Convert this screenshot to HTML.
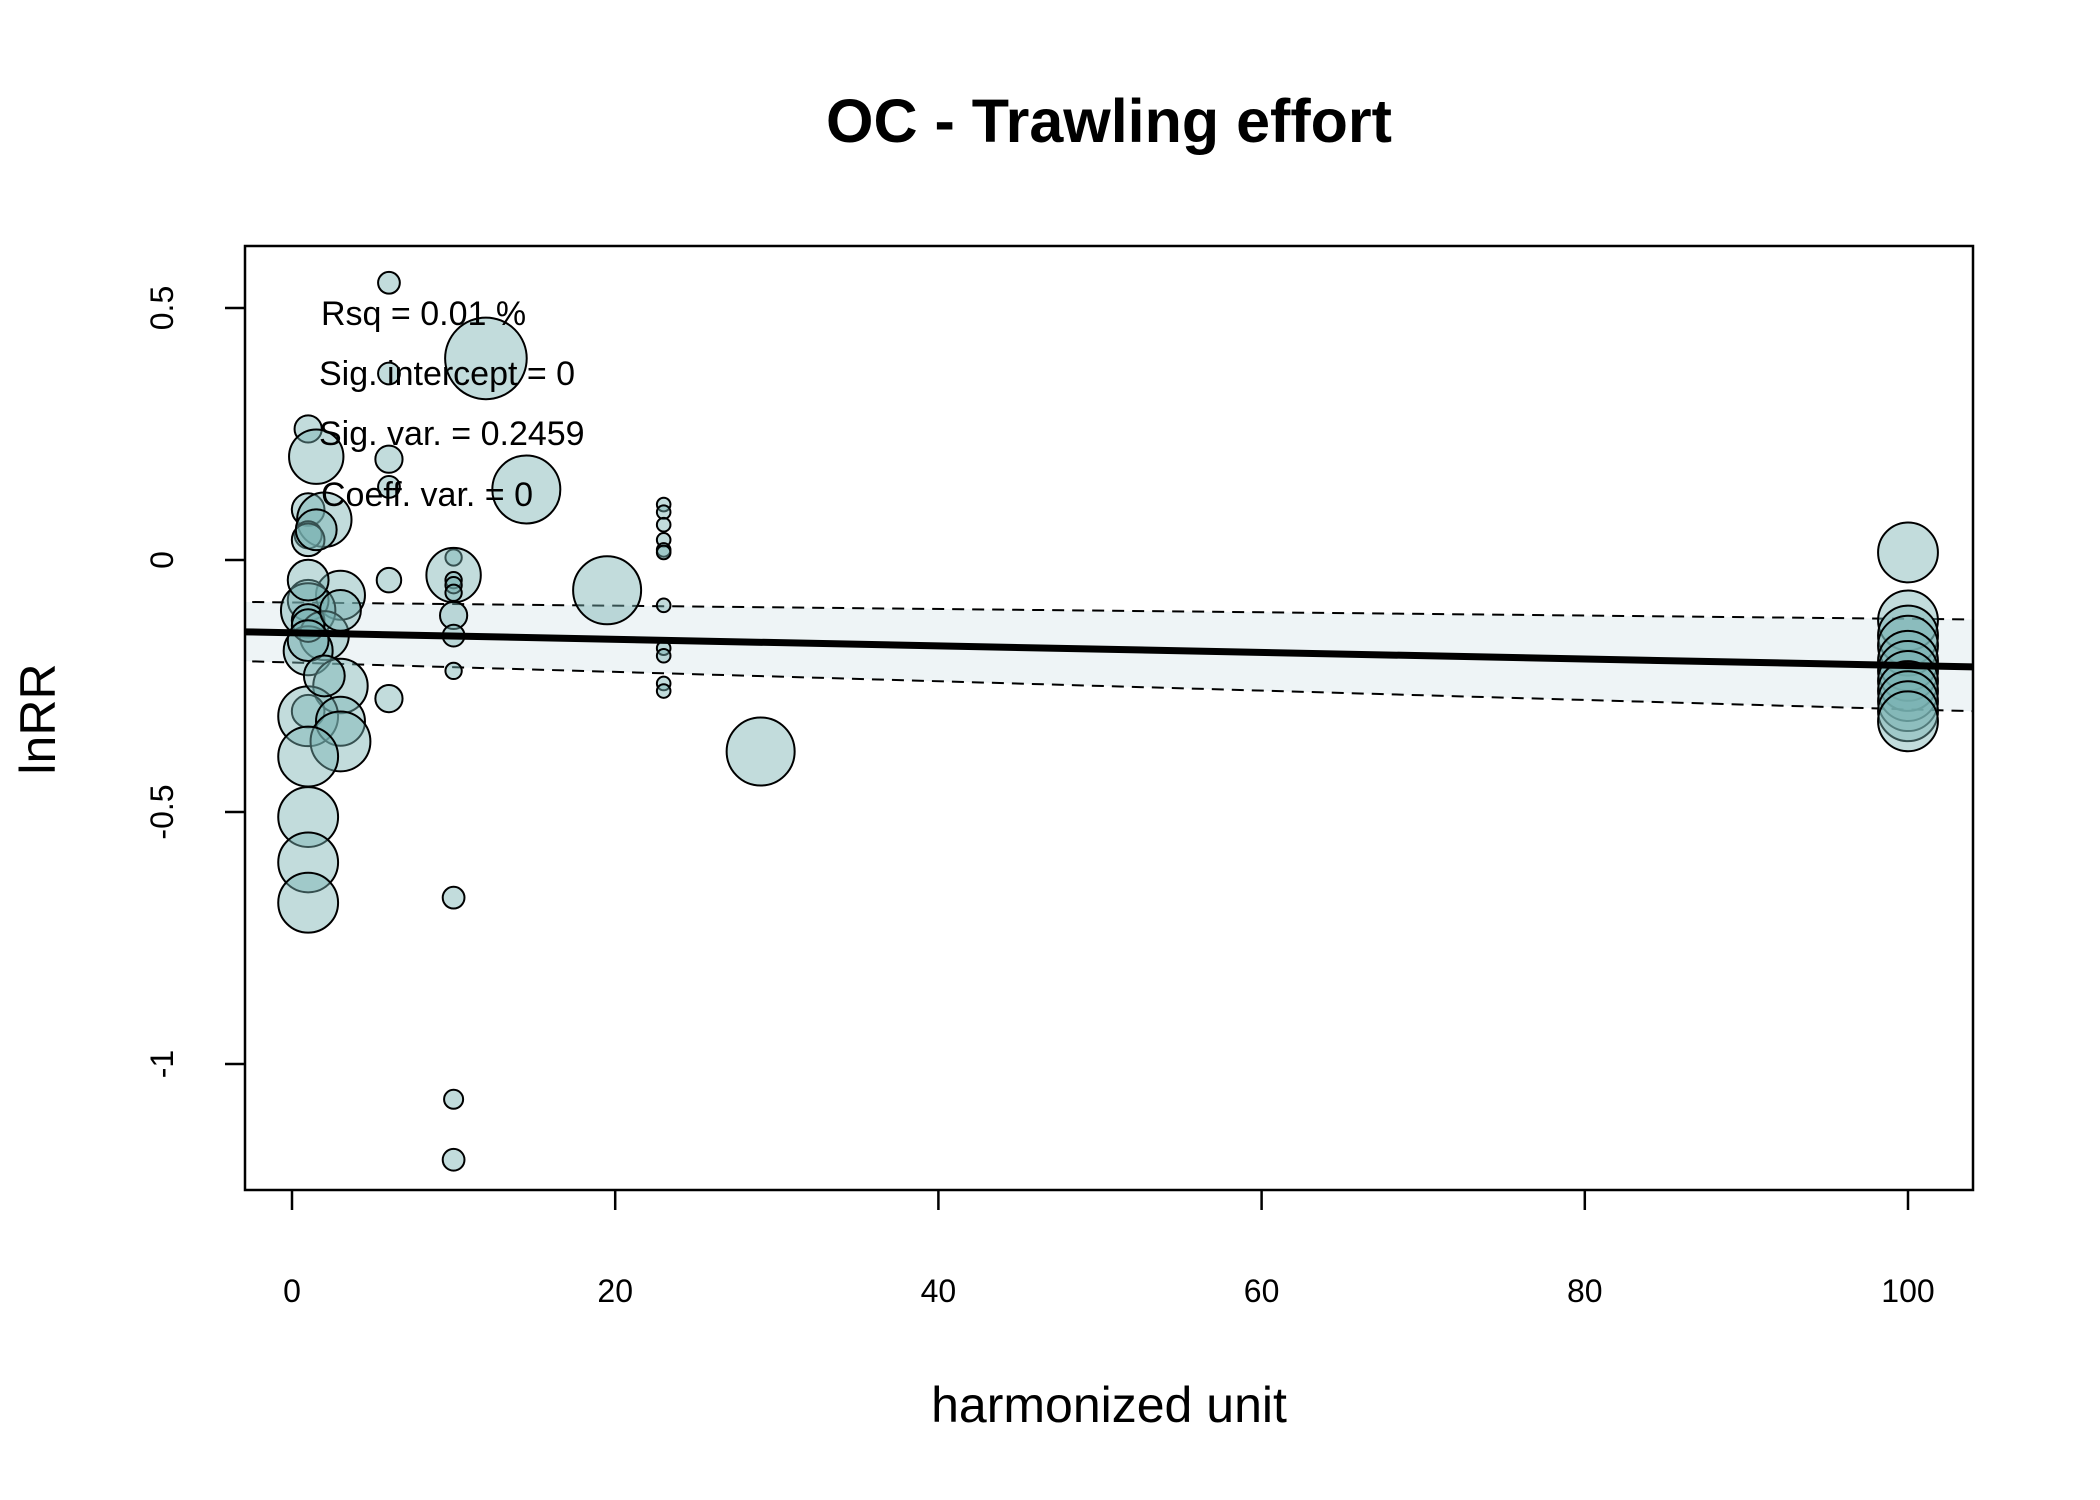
<!DOCTYPE html>
<html><head><meta charset="utf-8"><style>
html,body{margin:0;padding:0;background:#fff;}
svg{display:block;font-family:"Liberation Sans",Arial,sans-serif;}
</style></head><body>
<svg id="chart" width="2100" height="1500" viewBox="0 0 2100 1500" xmlns="http://www.w3.org/2000/svg">
<defs><clipPath id="plotclip"><rect x="245" y="246" width="1728" height="944"/></clipPath></defs>
<rect width="2100" height="1500" fill="#fff"/>
<text x="1109" y="142" font-size="61" font-weight="bold" text-anchor="middle">OC - Trawling effort</text>
<text x="1109" y="1422" font-size="50" text-anchor="middle">harmonized unit</text>
<text x="0" y="0" font-size="50" text-anchor="middle" transform="translate(55,719) rotate(-90)">lnRR</text>
<g id="plotarea" clip-path="url(#plotclip)">
<g id="ci"></g>
<g id="pts"></g>
</g>
<g id="axes"></g>
<g font-size="34">
<text x="321" y="325">Rsq = 0.01 %</text>
<text x="319" y="385">Sig. intercept = 0</text>
<text x="319" y="445">Sig. var. = 0.2459</text>
<text x="321" y="506">Coeff. var. = 0</text>
</g>
<rect x="245" y="246" width="1728" height="944" fill="none" stroke="#000" stroke-width="2.5"/>
</svg>
<script>
const xTicks=[0,20,40,60,80,100];
const yTicks=[0.5,0,-0.5,-1];
const yTickLabels=["0.5","0","-0.5","-1"];
const ptX=[6,6,6,6,6,6,10,10,10,10,10,10,10,10,10,10,10,12,14.5,19.5,29,
23,23,23,23,23,23,23,23,23,23,23,
100,100,100,100,100,100,100,100,100,100,100,
1,1.5,1,2,1,1,1.5,3,1,1,1,2,1,1,1,3,1,1,3,3,1,1,1,1,2,3,1];
const ptY=[0.55,0.37,0.2,0.145,-0.04,-0.275,0.005,-0.03,-0.04,-0.05,-0.065,-0.11,-0.15,-0.22,-0.67,-1.07,-1.19,0.4,0.14,-0.06,-0.38,
0.11,0.095,0.07,0.04,0.02,0.015,-0.09,-0.175,-0.19,-0.245,-0.26,
0.015,-0.12,-0.15,-0.17,-0.2,-0.22,-0.24,-0.26,-0.28,-0.3,-0.32,
0.26,0.205,0.1,0.08,0.05,0.04,0.06,-0.07,-0.08,-0.1,-0.12,-0.15,-0.18,-0.13,-0.16,-0.25,-0.3,-0.31,-0.32,-0.36,-0.39,-0.51,-0.6,-0.68,-0.23,-0.1,-0.04];
const ptW=[8,8,10,8,9,10,6,20,6,6,6,10,8,6,8,7,8,30,25,25,25,
5,5,5,5,5,5,5,5,5,5,5,
22,22,22,22,22,22,22,22,22,22,22,
10,20,12,20,10,12,15,18,15,20,12,18,18,12,15,20,12,22,18,22,22,22,22,22,15,15,15];
const fitX=[-3.7,104];
const fitY=[-0.142,-0.212];
const ciUp=[-0.083,-0.118];
const ciLo=[-0.2,-0.3];
const NS="http://www.w3.org/2000/svg";
const X=v=>292+(v)*16.16;
const Y=v=>560-(v)*504;
const RK=1.36;
function mk(t,a,p){const e=document.createElementNS(NS,t);for(const k in a)e.setAttribute(k,a[k]);p.appendChild(e);return e;}
const ci=document.getElementById('ci');
const band=mk('polygon',{points:`${X(fitX[0])},${Y(ciUp[0])} ${X(fitX[1])},${Y(ciUp[1])} ${X(fitX[1])},${Y(ciLo[1])} ${X(fitX[0])},${Y(ciLo[0])}`,fill:'#eef4f6'},ci);


const up=mk('line',{x1:X(fitX[0]),y1:Y(ciUp[0]),x2:X(fitX[1]),y2:Y(ciUp[1]),stroke:'#000','stroke-width':2,'stroke-dasharray':'12,8'},ci);


const lo=mk('line',{x1:X(fitX[0]),y1:Y(ciLo[0]),x2:X(fitX[1]),y2:Y(ciLo[1]),stroke:'#000','stroke-width':2,'stroke-dasharray':'12,8'},ci);


const pts=document.getElementById('pts');
for(let i=0;i<ptX.length;i++){
 const c=mk('circle',{cx:X(ptX[i]),cy:Y(ptY[i]),r:ptW[i]*RK,fill:'rgba(120,178,178,0.45)',stroke:'#000','stroke-width':2},pts);
 
 
}
const fit=mk('line',{x1:X(fitX[0]),y1:Y(fitY[0]),x2:X(fitX[1]),y2:Y(fitY[1]),stroke:'#000','stroke-width':7},document.getElementById('plotarea'));


const ax=document.getElementById('axes');
xTicks.forEach(t=>{
 const l=mk('line',{x1:X(t),y1:1190,x2:X(t),y2:1210,stroke:'#000','stroke-width':2.5},ax);
 
 
 const s=mk('text',{x:X(t),y:1302,'font-size':32,'text-anchor':'middle'},ax);
 s.textContent=t;
 
 
});
yTicks.forEach((t,i)=>{
 const l=mk('line',{x1:225,y1:Y(t),x2:245,y2:Y(t),stroke:'#000','stroke-width':2.5},ax);
 
 
 const s=mk('text',{x:0,y:0,'font-size':32,'text-anchor':'middle',transform:`translate(173,${Y(t)}) rotate(-90)`},ax);
 s.textContent=yTickLabels[i];
 
 
});
</script>
</body></html>
